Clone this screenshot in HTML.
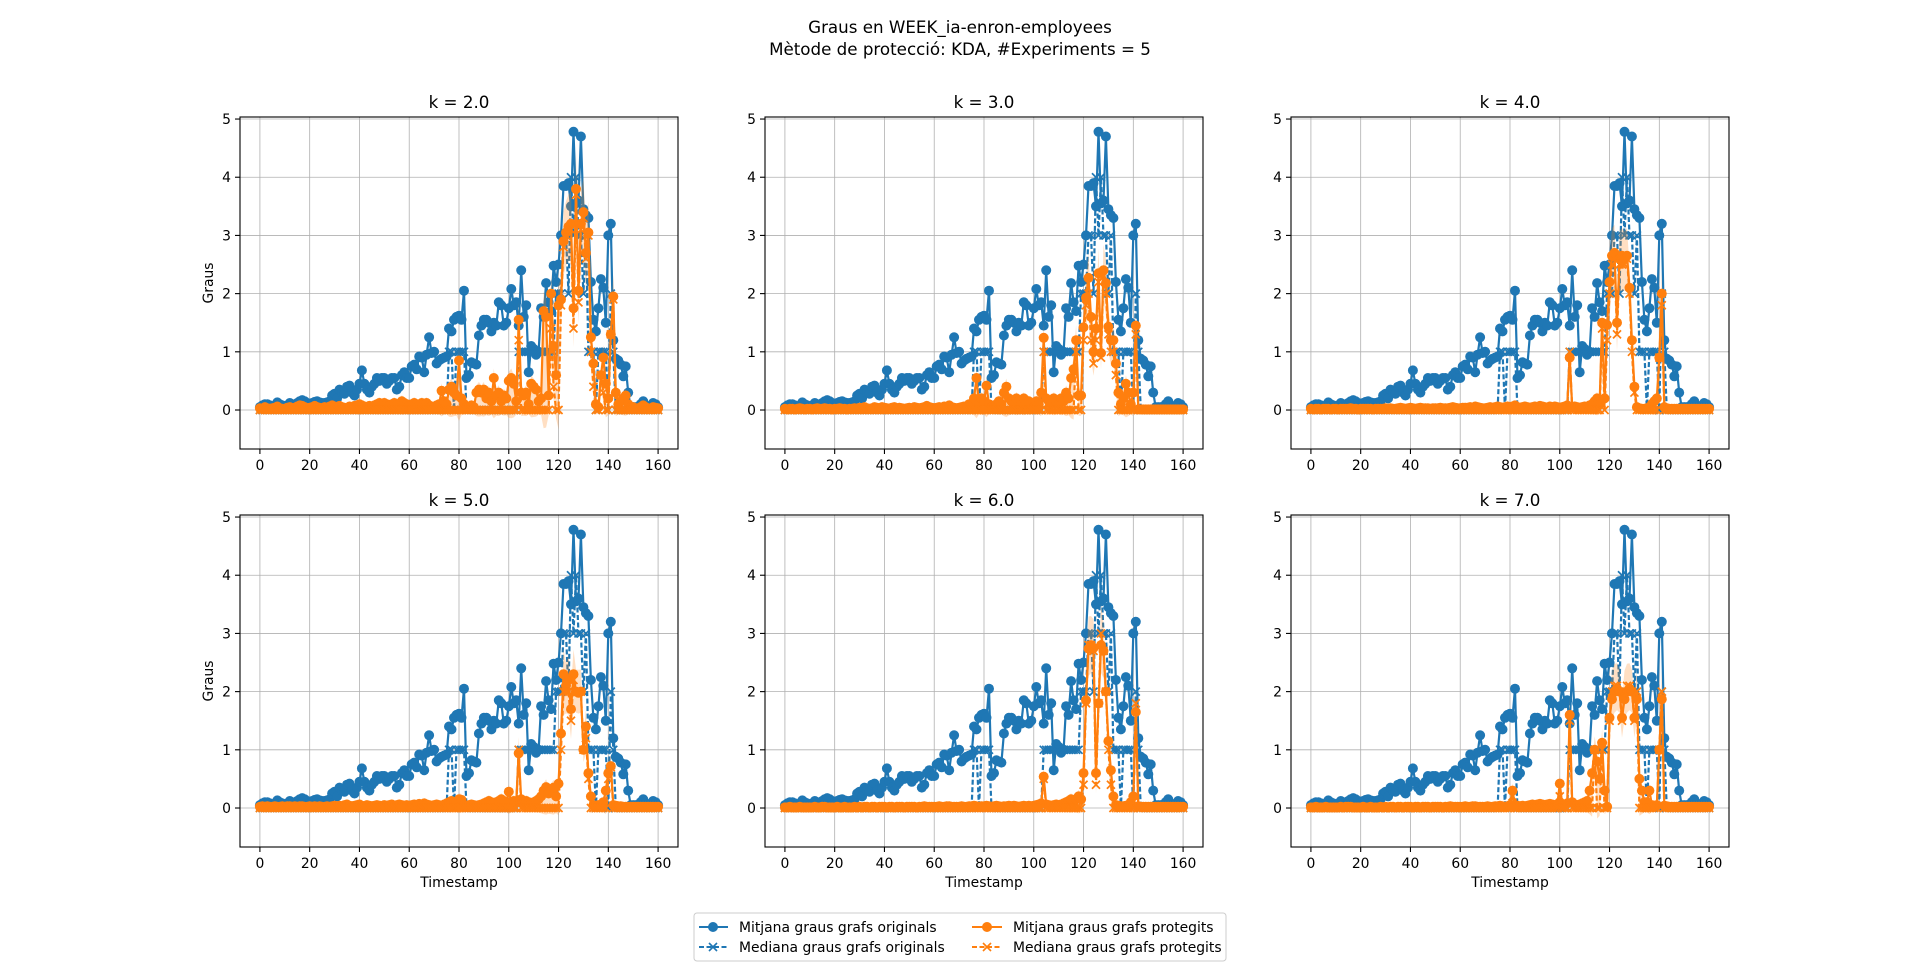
<!DOCTYPE html>
<html><head><meta charset="utf-8">
<style>
html,body{margin:0;padding:0;background:#fff;}
svg{display:block;font-family:"DejaVu Sans","Liberation Sans",sans-serif;}
</style></head>
<body>
<svg id="fig" width="1920" height="967" viewBox="0 0 1920 967" xmlns="http://www.w3.org/2000/svg">
<rect width="1920" height="967" fill="#fff"/>
<text x="960" y="33" font-size="16.7" text-anchor="middle">Graus en WEEK_ia-enron-employees</text>
<text x="960" y="55" font-size="16.7" text-anchor="middle">Mètode de protecció: KDA, #Experiments = 5</text>
<g id="panels"></g>
<g id="legend">
<rect x="694" y="913" width="532" height="48" rx="3" fill="#fff" stroke="#cccccc" stroke-width="1"/>
<g>
<line x1="699" y1="927" x2="728" y2="927" stroke="#1f77b4" stroke-width="2.1"/><circle cx="713" cy="927" r="5" fill="#1f77b4"/>
<text x="739" y="932" font-size="13.9">Mitjana graus grafs originals</text></g>
<g>
<line x1="699" y1="947" x2="728" y2="947" stroke="#1f77b4" stroke-width="2.1" stroke-dasharray="5,2.5"/><path d="M709,943L717,951M717,943L709,951" stroke="#1f77b4" stroke-width="1.6"/>
<text x="739" y="952" font-size="13.9">Mediana graus grafs originals</text></g>
<g>
<line x1="972" y1="927" x2="1002" y2="927" stroke="#ff7f0e" stroke-width="2.1"/><circle cx="987" cy="927" r="5" fill="#ff7f0e"/>
<text x="1013" y="932" font-size="13.9">Mitjana graus grafs protegits</text></g>
<g>
<line x1="972" y1="947" x2="1002" y2="947" stroke="#ff7f0e" stroke-width="2.1" stroke-dasharray="5,2.5"/><path d="M983,943L991,951M991,943L983,951" stroke="#ff7f0e" stroke-width="1.6"/>
<text x="1013" y="952" font-size="13.9">Mediana graus grafs protegits</text></g>
</g>
</svg>
<script>
// ---- data ----
const kLabels = ["k = 2.0","k = 3.0","k = 4.0","k = 5.0","k = 6.0","k = 7.0"];
const xTicks = [0,20,40,60,80,100,120,140,160];
const yTicks = [0,1,2,3,4,5];
const blueMean = [
.05,.08,.10,.10,.08,.05,.07,.13,.10,.08,
.05,.08,.12,.10,.10,.12,.15,.17,.15,.12,
.10,.12,.14,.15,.13,.12,.12,.13,.15,.25,
.28,.20,.35,.30,.28,.40,.42,.30,.25,.35,
.45,.68,.45,.35,.30,.40,.45,.55,.50,.55,
.55,.45,.50,.55,.55,.35,.40,.60,.65,.55,
.55,.75,.78,.70,.92,.90,.65,.95,1.25,.98,
1.0,.80,.85,.88,.90,.92,1.40,1.35,1.55,1.60,
1.62,1.55,2.05,.55,.60,.82,.80,.78,1.28,1.45,
1.55,1.55,1.50,1.35,1.50,1.45,1.85,1.80,1.45,1.50,
1.75,2.08,1.80,1.85,1.45,2.40,1.60,1.80,.65,1.10,
1.05,.95,1.00,1.75,1.60,2.18,1.85,1.70,2.48,2.20,
2.50,3.00,3.85,3.85,3.90,3.50,4.78,3.55,3.60,4.70,
3.45,3.35,3.30,2.20,1.55,1.35,1.75,2.25,2.10,1.50,
3.00,3.20,1.20,.88,.85,.78,.58,.75,.30,.05,
.05,.05,.05,.10,.15,.08,.05,.05,.12,.10,.05];
const blueMedianIdx = [76,77,79,80,81,82,104,105,106,107,108,109,110,111,112,113,114,115,116,117,118,119,120,121,122,123,124,125,126,127,128,129,130,131,132,133,134,136,137,138,139,141,142];
const blueMedianVal = [1,1,1,1,1,1,1,1,1,1,1,1,1,1,1,1,1,1,1,1,1,2,2,2,3,3,2,4,3,4,3,3,2,3,1,1,1,1,1,1,1,2,1];
const orangeMean2 = [
.03,.02,.05,.03,.02,.03,.04,.06,.03,.02,
.02,.04,.05,.03,.04,.06,.08,.07,.05,.03,
.04,.05,.07,.05,.04,.03,.05,.04,.06,.08,
.06,.05,.07,.05,.04,.03,.06,.05,.07,.08,
.10,.08,.06,.05,.07,.06,.08,.10,.12,.09,
.12,.10,.08,.10,.12,.08,.10,.15,.12,.10,
.08,.10,.12,.10,.08,.12,.10,.12,.08,.06,
.05,.08,.10,.33,.15,.10,.35,.40,.30,.25,
.85,.20,.10,.05,.05,.08,.05,.30,.35,.30,
.35,.20,.30,.15,.55,.25,.30,.15,.25,.20,
.50,.55,.45,.15,1.55,.30,.25,.30,.10,.45,
.40,.35,.15,.20,1.70,1.60,.25,2.00,1.10,.60,
1.80,1.90,2.90,3.05,3.15,3.20,1.75,3.80,2.05,3.20,
3.40,2.70,3.05,1.25,.80,.10,.05,.60,.90,.45,
.20,1.30,1.95,.30,.10,.15,.20,.25,.10,.05,
.05,.02,.03,.05,.08,.05,.03,.02,.05,.04,.03];
const orangeMean3 = [
.02,.01,.02,.02,.01,.02,.03,.02,.01,.02,
.02,.01,.02,.03,.02,.02,.03,.02,.02,.01,
.02,.02,.03,.02,.02,.01,.02,.02,.03,.02,
.04,.03,.05,.03,.02,.03,.05,.04,.03,.05,
.04,.03,.02,.04,.05,.03,.04,.03,.02,.03,
.04,.03,.05,.04,.03,.04,.05,.07,.05,.04,
.03,.04,.05,.04,.06,.05,.08,.05,.04,.03,
.04,.05,.06,.05,.10,.08,.20,.55,.10,.20,
.15,.42,.10,.05,.05,.10,.15,.10,.30,.40,
.20,.15,.10,.20,.15,.10,.20,.10,.15,.10,
.05,.15,.10,.30,1.24,.20,.15,.10,.20,.15,
.10,.20,.15,.30,.20,.55,.70,1.20,.25,.25,
1.42,1.93,2.27,1.60,1.00,1.40,2.35,.98,2.40,2.18,
1.43,1.20,1.20,.80,.30,.10,.20,.45,.30,.10,
.30,1.45,.01,.01,.01,.01,.01,.01,.01,.01,
.01,.01,.01,.01,.01,.01,.01,.01,.01,.01,.01];
const orangeMean4 = [
.02,.01,.02,.02,.01,.02,.02,.02,.01,.02,
.02,.01,.02,.02,.02,.02,.03,.02,.02,.01,
.02,.02,.02,.02,.02,.01,.02,.02,.02,.02,
.03,.02,.03,.02,.02,.03,.04,.03,.02,.03,
.04,.03,.02,.03,.04,.03,.03,.03,.02,.03,
.03,.03,.04,.03,.03,.03,.04,.05,.04,.03,
.03,.04,.04,.04,.05,.04,.06,.05,.04,.03,
.03,.04,.05,.04,.05,.06,.05,.04,.05,.06,
.05,.06,.08,.05,.04,.05,.06,.05,.04,.05,
.06,.05,.07,.06,.05,.04,.06,.05,.06,.05,
.04,.05,.06,.08,.90,.05,.06,.05,.04,.05,
.06,.05,.08,.10,.15,.20,.10,1.50,.20,1.46,
2.20,2.65,2.70,1.50,2.60,2.65,2.60,2.65,2.10,1.20,
.40,.05,.03,.02,.02,.03,.05,.10,.15,.20,
.90,2.00,.05,.03,.02,.02,.02,.02,.02,.02,
.02,.02,.02,.02,.02,.02,.02,.02,.02,.02,.02];
const orangeMean5 = [
.02,.03,.02,.03,.02,.02,.03,.02,.02,.03,
.02,.03,.03,.02,.03,.02,.03,.03,.02,.02,
.03,.02,.03,.02,.03,.02,.02,.03,.02,.03,
.04,.03,.04,.03,.05,.06,.04,.03,.04,.05,
.06,.04,.03,.05,.04,.03,.04,.05,.04,.03,
.05,.04,.05,.06,.04,.05,.06,.05,.04,.05,
.04,.05,.06,.05,.07,.05,.08,.06,.05,.04,
.05,.06,.05,.04,.06,.08,.10,.12,.08,.10,
.15,.14,.05,.04,.05,.06,.05,.04,.05,.06,
.08,.10,.12,.10,.08,.10,.12,.15,.12,.10,
.28,.10,.12,.10,.94,.15,.10,.12,.10,.08,
.10,.12,.15,.20,.30,.36,.25,.30,.35,.20,
.42,1.28,2.30,2.10,2.20,1.70,2.30,2.00,1.98,2.00,
1.00,1.40,.60,.20,.05,.04,.05,.04,.10,.30,
.60,.72,.05,.04,.03,.03,.02,.02,.02,.02,
.02,.02,.02,.02,.02,.02,.02,.02,.02,.02,.02];
const orangeMean6 = [
.01,.01,.02,.01,.01,.01,.02,.01,.01,.01,
.01,.01,.02,.01,.01,.02,.02,.01,.01,.01,
.01,.02,.01,.01,.02,.01,.01,.01,.02,.01,
.02,.01,.02,.02,.01,.02,.02,.01,.02,.02,
.02,.01,.02,.02,.01,.02,.02,.02,.01,.02,
.02,.02,.02,.01,.02,.02,.03,.02,.02,.02,
.02,.02,.03,.02,.02,.03,.03,.02,.02,.02,
.02,.03,.02,.02,.03,.03,.04,.03,.02,.03,
.03,.04,.03,.02,.03,.04,.03,.02,.03,.03,
.04,.03,.04,.03,.02,.03,.04,.03,.04,.03,
.04,.05,.06,.08,.54,.06,.05,.04,.05,.06,
.05,.06,.08,.10,.12,.15,.10,.15,.20,.15,
.60,1.85,2.74,2.80,2.75,.60,1.80,2.80,2.70,2.00,
1.15,.65,.20,.05,.04,.03,.03,.04,.05,.10,
.20,1.65,.03,.02,.02,.02,.02,.02,.02,.02,
.02,.02,.02,.02,.02,.02,.02,.02,.02,.02,.02];
const orangeMean7 = [
.01,.01,.02,.01,.01,.01,.02,.01,.01,.01,
.01,.01,.02,.01,.02,.02,.02,.01,.01,.01,
.01,.02,.01,.01,.02,.01,.01,.01,.02,.01,
.02,.01,.02,.02,.01,.02,.02,.01,.02,.02,
.02,.01,.02,.02,.01,.02,.02,.02,.01,.02,
.02,.02,.02,.01,.02,.02,.03,.02,.02,.02,
.02,.02,.03,.02,.02,.03,.03,.02,.02,.02,
.02,.03,.02,.02,.03,.03,.04,.03,.02,.03,
.05,.30,.05,.04,.03,.04,.03,.04,.05,.06,
.05,.06,.07,.06,.05,.06,.07,.06,.05,.06,
.42,.05,.06,.08,1.60,.10,.06,.05,.06,.08,
.10,.12,.30,.60,1.00,.80,.50,1.12,.30,.02,
1.55,1.87,2.00,2.05,2.00,1.55,1.87,2.00,2.05,2.00,
1.55,1.87,.50,.30,.10,.10,.30,.05,.04,.05,
1.00,1.87,.04,.03,.02,.02,.02,.02,.02,.02,
.02,.02,.02,.02,.02,.02,.02,.02,.02,.02,.02];
const orangeMedianIdx2 = [104,117,118,121,122,123,124,125,126,127,128,129,130,131,132,133,134,137,138,141,142];
const orangeMedianVal2 = [1.2,1.4,.4,1.8,2.8,3.0,3.1,3.1,1.4,3.7,1.85,3.1,3.3,2.6,3.0,1.0,.4,.6,.3,1.3,1.9];
const orangeMedianIdx3 = [104,117,120,121,122,123,124,125,126,127,128,129,130,131,132,133,141];
const orangeMedianVal3 = [1,1,1.2,1.8,2,1.2,.8,1.2,2.2,.9,2.3,2.0,1.3,1.0,1.0,.6,1.3];
const orangeMedianIdx4 = [104,117,119,120,121,122,123,124,125,126,127,128,129,130,140,141];
const orangeMedianVal4 = [1,1.4,1.2,2,2.5,2.6,1.3,2.5,2.5,2.5,2.6,2.0,1.0,.3,.9,1.8];
const orangeMedianIdx5 = [104,121,122,123,124,125,126,127,128,129,130,131,132,140,141];
const orangeMedianVal5 = [1,1,2,2,2,1.5,2.2,2,2,2,1,1.2,.5,.5,.7];
const orangeMedianIdx6 = [104,120,121,122,123,124,125,126,127,128,129,130,131,141];
const orangeMedianVal6 = [.5,.4,1.8,2.8,2.8,2.7,.4,1.8,3.0,2.7,2.0,1.0,.4,1.8];
const orangeMedianIdx7 = [81,100,104,114,117,120,121,122,123,124,125,126,127,128,129,130,131,140,141];
const orangeMedianVal7 = [.2,.2,1.5,1,1,1.5,2,2.1,2.1,2,1.5,2,2.1,2.1,2,1.5,2,1,2];

const orangeMeans = [orangeMean2,orangeMean3,orangeMean4,orangeMean5,orangeMean6,orangeMean7];
const orangeMedIdx = [orangeMedianIdx2,orangeMedianIdx3,orangeMedianIdx4,orangeMedianIdx5,orangeMedianIdx6,orangeMedianIdx7];
const orangeMedVal = [orangeMedianVal2,orangeMedianVal3,orangeMedianVal4,orangeMedianVal5,orangeMedianVal6,orangeMedianVal7];

// ---- drawing ----
const NS = "http://www.w3.org/2000/svg";
const N = blueMean.length;
function mk(tag, attrs, parent){ const e=document.createElementNS(NS,tag); for(const k in attrs) e.setAttribute(k,attrs[k]); if(parent) parent.appendChild(e); return e; }
function sparse(idx,val){ const a=new Array(N).fill(0); idx.forEach((t,i)=>{ if(t<N) a[t]=val[i]; }); return a; }
const blueMedian = sparse(blueMedianIdx, blueMedianVal);
const lefts=[240,765,1291], tops=[117,515], W=438, H=332;
const XMIN=-8, XMAX=168, YMIN=-0.67, YMAX=5.035;
const root=document.getElementById('panels');

function series(g, vals, sx, sy, color, dashed, marker, name){
  const sg = mk('g',{},g);
  
  
  let d='';
  vals.forEach((v,i)=>{ d += (i?'L':'M')+sx(i).toFixed(1)+','+sy(v).toFixed(1); });
  mk('path',{d:d,fill:'none',stroke:color,'stroke-width':2.2,'stroke-dasharray':dashed?'5,2.5':'none','stroke-linejoin':'round'},sg);
  vals.forEach((v,i)=>{
    const x=sx(i), y=sy(v);
    let m;
    if(marker==='o'){ m=mk('circle',{cx:x.toFixed(1),cy:y.toFixed(1),r:5,fill:color},sg); }
    else { m=mk('path',{d:`M${x-4},${y-4}L${x+4},${y+4}M${x+4},${y-4}L${x-4},${y+4}`,stroke:color,'stroke-width':1.7},sg); }
    
    
  });
}

for(let p=0;p<6;p++){
  const col=p%3,row=Math.floor(p/3);
  const L=lefts[col],T=tops[row];
  const sx=v=>L+(v-XMIN)/(XMAX-XMIN)*W;
  const sy=v=>T+(YMAX-v)/(YMAX-YMIN)*H;
  const g=mk('g',{},root);
  
  
  const cp='clip'+p;
  const defs=mk('defs',{},g); const c=mk('clipPath',{id:cp},defs); mk('rect',{x:L,y:T,width:W,height:H},c);
  const grid=mk('g',{stroke:'#b0b0b0','stroke-width':0.8},g);
  
  
  xTicks.forEach(t=>mk('line',{x1:sx(t),x2:sx(t),y1:T,y2:T+H},grid));
  yTicks.forEach(t=>mk('line',{x1:L,x2:L+W,y1:sy(t),y2:sy(t)},grid));
  const plot=mk('g',{'clip-path':`url(#${cp})`},g);
  series(plot, blueMean, sx, sy, '#1f77b4', false, 'o', 'mean-original-series');
  series(plot, blueMedian, sx, sy, '#1f77b4', true, 'x', 'median-original-series');
  const om=orangeMeans[p];
  const omed=sparse(orangeMedIdx[p],orangeMedVal[p]);
  let up='',lo='';
  om.forEach((v,i)=>{ const hi=Math.max(v,omed[i])+0.08+0.15*v; const lw=Math.min(v,omed[i])-0.06-0.15*v; up+=(i?'L':'M')+sx(i).toFixed(1)+','+sy(hi).toFixed(1); lo='L'+sx(i).toFixed(1)+','+sy(lw).toFixed(1)+lo; });
  const band=mk('path',{d:up+lo+'Z',fill:'#ff7f0e','fill-opacity':0.25,stroke:'none'},plot);
  
  
  series(plot, om, sx, sy, '#ff7f0e', false, 'o', 'mean-protected-series');
  series(plot, omed, sx, sy, '#ff7f0e', true, 'x', 'median-protected-series');
  const sp=mk('rect',{x:L,y:T,width:W,height:H,fill:'none',stroke:'#000','stroke-width':1.1},g);
  
  
  const tk=mk('g',{},g);
  
  
  xTicks.forEach(t=>{
    mk('line',{x1:sx(t),x2:sx(t),y1:T+H,y2:T+H+5,stroke:'#000','stroke-width':1.1},tk);
    const tx=mk('text',{x:sx(t),y:T+H+21,'font-size':13.9,'text-anchor':'middle'},tk); tx.textContent=t;
    
    
  });
  yTicks.forEach(t=>{
    mk('line',{x1:L-5,x2:L,y1:sy(t),y2:sy(t),stroke:'#000','stroke-width':1.1},tk);
    const tx=mk('text',{x:L-9,y:sy(t)+5,'font-size':13.9,'text-anchor':'end'},tk); tx.textContent=t;
    
    
  });
  const ti=mk('text',{x:L+W/2,y:T-9,'font-size':16.7,'text-anchor':'middle'},g); ti.textContent=kLabels[p];
  
  
  if(col===0){
    const yl=mk('text',{x:0,y:0,'font-size':13.9,'text-anchor':'middle',transform:`translate(213,${T+H/2}) rotate(-90)`},g); yl.textContent='Graus';
    
    
  }
  if(row===1){
    const xl=mk('text',{x:L+W/2,y:T+H+40,'font-size':13.9,'text-anchor':'middle'},g); xl.textContent='Timestamp';
    
    
  }
}
</script>
</body></html>
